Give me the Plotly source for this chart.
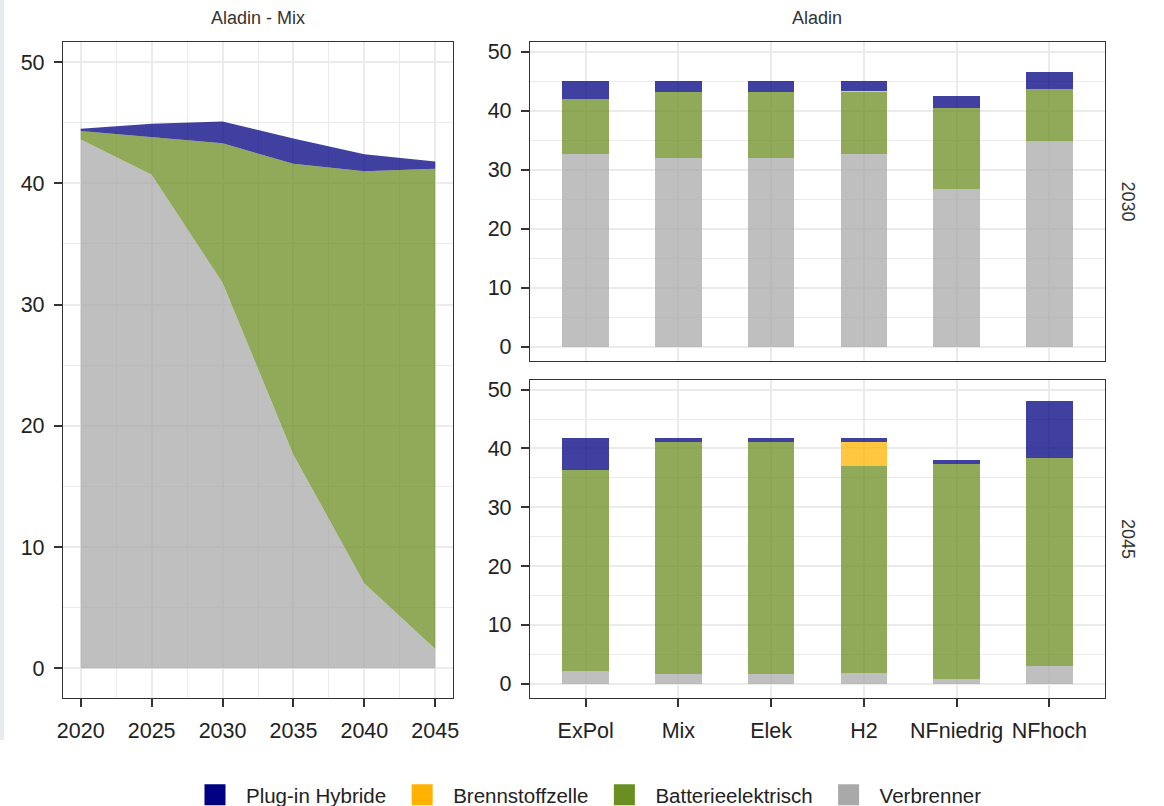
import plotly.graph_objects as go

# ---------------- data ----------------
years = [2020, 2025, 2030, 2035, 2040, 2045]
mix_verbrenner = [43.6, 40.7, 31.8, 17.6, 7.0, 1.6]
mix_batterie = [0.7, 3.1, 11.5, 24.0, 34.0, 39.6]
mix_brennstoff = [0.0, 0.0, 0.0, 0.0, 0.0, 0.0]
mix_plugin = [0.2, 1.1, 1.8, 2.1, 1.4, 0.6]

scenarios = ["ExPol", "Mix", "Elek", "H2", "NFniedrig", "NFhoch"]
verbrenner_2030 = [32.7, 31.9, 31.9, 32.7, 26.8, 34.9]
batterie_2030 = [9.2, 11.3, 11.3, 10.5, 13.6, 8.7]
brennstoff_2030 = [0.0, 0.0, 0.0, 0.15, 0.0, 0.0]
plugin_2030 = [3.2, 1.9, 1.9, 1.75, 2.1, 3.0]

verbrenner_2045 = [2.1, 1.6, 1.6, 1.75, 0.7, 3.0]
batterie_2045 = [34.3, 39.5, 39.5, 35.25, 36.6, 35.4]
brennstoff_2045 = [0.0, 0.0, 0.0, 4.1, 0.0, 0.0]
plugin_2045 = [5.4, 0.7, 0.7, 0.7, 0.7, 9.6]

names = ["Verbrenner", "Batterieelektrisch", "Brennstoffzelle", "Plug-in Hybride"]
solid = {"Verbrenner": "#A9A9A9", "Batterieelektrisch": "#6B8E23",
         "Brennstoffzelle": "#FFB300", "Plug-in Hybride": "#000080"}
fills = {"Verbrenner": "rgba(169,169,169,0.75)", "Batterieelektrisch": "rgba(107,142,35,0.75)",
         "Brennstoffzelle": "rgba(255,179,0,0.75)", "Plug-in Hybride": "rgba(0,0,128,0.75)"}

FONT = "Liberation Sans, Arial, sans-serif"
fig = go.Figure()

# left: stacked area
for nm, vals in zip(names, [mix_verbrenner, mix_batterie, mix_brennstoff, mix_plugin]):
    fig.add_trace(go.Scatter(x=years, y=vals, stackgroup="mix", mode="lines",
                             line=dict(width=0, color=fills[nm]), fillcolor=fills[nm],
                             name=nm, showlegend=False, xaxis="x", yaxis="y"))

# right: stacked bars
for ax, data in [("2", [verbrenner_2030, batterie_2030, brennstoff_2030, plugin_2030]),
                 ("3", [verbrenner_2045, batterie_2045, brennstoff_2045, plugin_2045])]:
    for nm, vals in zip(names, data):
        fig.add_trace(go.Bar(x=scenarios, y=vals, width=0.5, name=nm,
                             marker=dict(color=fills[nm], line=dict(width=0)),
                             showlegend=False, xaxis="x" + ax, yaxis="y" + ax))

# legend entries
for nm in ["Plug-in Hybride", "Brennstoffzelle", "Batterieelektrisch", "Verbrenner"]:
    fig.add_trace(go.Scatter(x=[None], y=[None], mode="markers", name=nm,
                             marker=dict(symbol="square", size=28, color=solid[nm],
                                         line=dict(width=5, color=solid[nm])),
                             xaxis="x", yaxis="y"))

W, H = 1164, 806
def px(x):
    return x / W
def py(y):
    return 1 - y / H

grid = "#EBEBEB"
common_axis = dict(showline=True, mirror=True, linecolor="#333333", linewidth=1.3,
                   ticks="outside", ticklen=8, tickwidth=2, tickcolor="#333333",
                   ticklabelstandoff=5, automargin=False,
                   showgrid=True, gridcolor=grid, gridwidth=1.6, zeroline=False,
                   tickfont=dict(family=FONT, size=21.5, color="#222222"))
yrange = [-2.45, 51.65]
yaxis_common = dict(common_axis, range=yrange, tickvals=[0, 10, 20, 30, 40, 50],
                    minor=dict(tickvals=[5, 15, 25, 35, 45], showgrid=True,
                               gridcolor=grid, gridwidth=0.8, ticks=""))

strip_font = dict(family=FONT, size=18, color="#333333")

fig.update_layout(
    width=W, height=H,
    margin=dict(l=0, r=0, t=0, b=0, pad=0, autoexpand=False),
    paper_bgcolor="white", plot_bgcolor="white",
    barmode="stack",
    font=dict(family=FONT, size=20, color="#222222"),
    xaxis=dict(common_axis, domain=[px(63), px(453)], anchor="y",
               range=[2018.75, 2046.25], tickvals=years,
               minor=dict(tickvals=[2022.5, 2027.5, 2032.5, 2037.5, 2042.5], showgrid=True,
                          gridcolor=grid, gridwidth=0.8, ticks="")),
    yaxis=dict(yaxis_common, domain=[py(698), py(42)], anchor="x"),
    xaxis2=dict(common_axis, domain=[px(530), px(1105)], anchor="y2", type="category",
                categoryorder="array", categoryarray=scenarios, range=[-0.6, 5.6],
                showticklabels=False, ticks=""),
    yaxis2=dict(yaxis_common, domain=[py(361), py(42)], anchor="x2"),
    xaxis3=dict(common_axis, domain=[px(530), px(1105)], anchor="y3", type="category",
                categoryorder="array", categoryarray=scenarios, range=[-0.6, 5.6]),
    yaxis3=dict(yaxis_common, domain=[py(698), py(380)], anchor="x3"),
    legend=dict(orientation="h", x=0.503, xanchor="center", y=py(795), yanchor="middle",
                font=dict(family=FONT, size=20.5, color="#222222"), itemsizing="trace",
                itemwidth=52, traceorder="normal", bgcolor="rgba(0,0,0,0)"),
    annotations=[
        dict(text="Aladin - Mix", x=px(258), y=py(18), xref="paper", yref="paper",
             xanchor="center", yanchor="middle", showarrow=False, font=strip_font),
        dict(text="Aladin", x=px(817.5), y=py(18), xref="paper", yref="paper",
             xanchor="center", yanchor="middle", showarrow=False, font=strip_font),
        dict(text="2030", x=px(1128), y=py(201.5), xref="paper", yref="paper", textangle=90,
             xanchor="center", yanchor="middle", showarrow=False, font=strip_font),
        dict(text="2045", x=px(1128), y=py(539), xref="paper", yref="paper", textangle=90,
             xanchor="center", yanchor="middle", showarrow=False, font=strip_font),
    ],
    shapes=[dict(type="rect", xref="paper", yref="paper", x0=0, x1=px(4), y0=py(740), y1=1,
                 fillcolor="#E6ECF0", line=dict(width=0), layer="below")],
)

fig.write_html("out.html", config={"displayModeBar": False},
               post_script="document.body.style.margin='0px';")
